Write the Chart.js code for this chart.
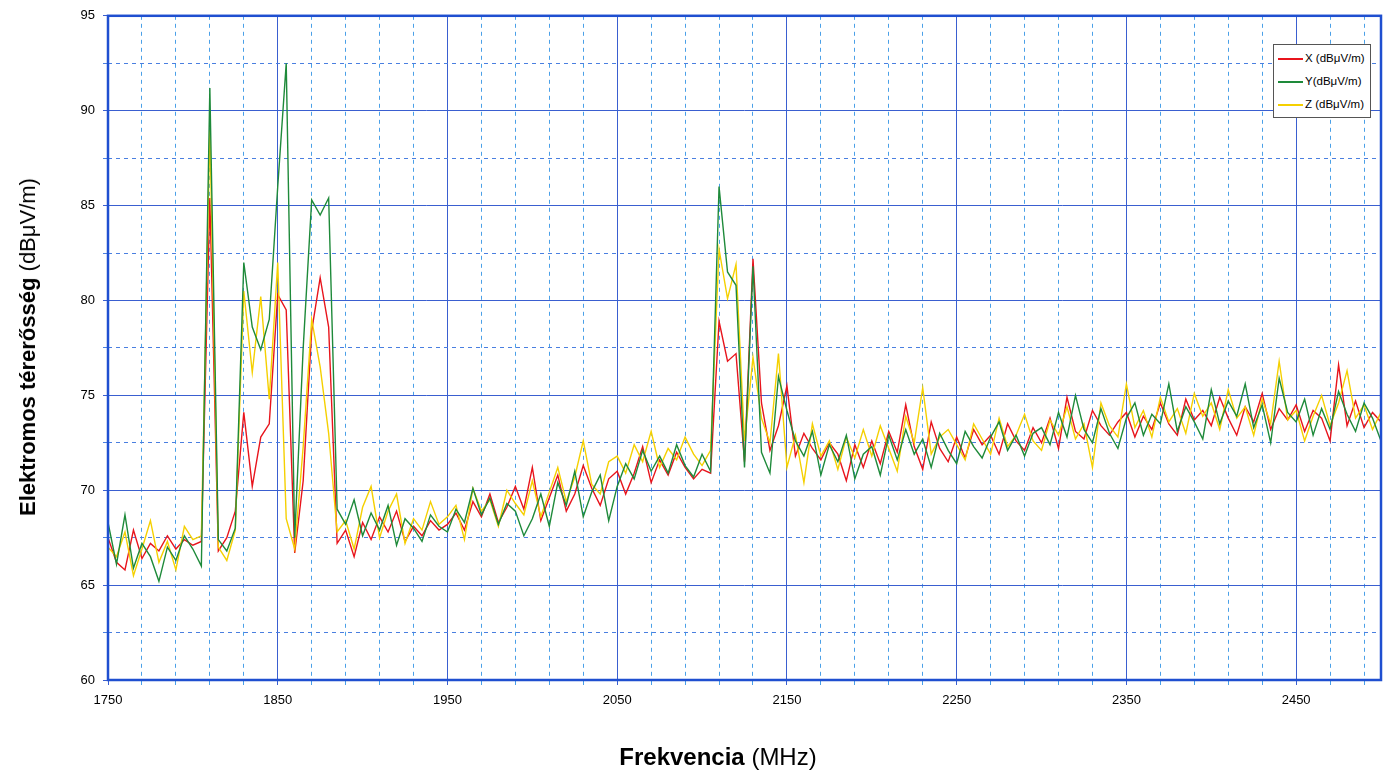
<!DOCTYPE html>
<html>
<head>
<meta charset="utf-8">
<script src="https://cdn.jsdelivr.net/npm/chart.js@4.4.1/dist/chart.umd.min.js"></script>
<style>
  body { margin: 0; background: #fff; font-family: "Liberation Sans", Arial, sans-serif; }
  #wrap { position: relative; width: 1389px; height: 774px; }
  #ytitle { position: absolute; left: 28px; top: 347px; transform: translate(-50%, -50%) rotate(-90deg); font-size: 22px; white-space: nowrap; }
  #xtitle { position: absolute; left: 718px; top: 757px; transform: translate(-50%, -50%); font-size: 24px; white-space: nowrap; }
  #legend { position: absolute; left: 1273px; top: 44px; width: 98px; height: 74px; background: #fff; border: 1px solid #555; font-size: 11.5px; padding-top: 2px; box-sizing: border-box; }
  #legend div { height: 23px; line-height: 23px; white-space: nowrap; }
  #legend span { display: inline-block; width: 25px; height: 2px; vertical-align: middle; margin: 0 2px 0 4px; }
</style>
</head>
<body>
<div id="wrap">
  <canvas id="chart" width="1389" height="774"></canvas>
  <div id="ytitle"><b>Elektromos térerősség</b> (dBμV/m)</div>
  <div id="xtitle"><b>Frekvencia</b> (MHz)</div>
  <div id="legend">
    <div><span style="background:#e8141c"></span>X (dBμV/m)</div>
    <div><span style="background:#1e8a3a"></span>Y(dBμV/m)</div>
    <div><span style="background:#f5d000"></span>Z (dBμV/m)</div>
  </div>
</div>
<script>
// frequencies 1750..2500 MHz, step 5
const freqs = [];
for (let f = 1750; f <= 2500; f += 5) freqs.push(f);

const seriesX = [
  67.5,66.2,65.8,67.9,66.4,67.2,66.8,67.6,66.9,67.4,
  67.1,67.3,85.4,66.8,67.5,68.9,
  74.1,70.2,72.8,73.5,
  80.3,79.5,
  66.7,70.5,78.4,81.2,78.6,
  67.2,67.9,66.5,68.3,67.4,68.6,67.8,68.9,67.3,68.1,67.6,68.4,67.9,
  68.2,68.8,67.9,69.4,68.6,69.8,68.3,69.1,70.2,69.0,
  71.2,68.4,69.6,70.8,68.9,69.8,71.3,70.1,69.2,70.6,
  71.0,69.8,70.9,72.3,70.4,71.6,70.8,72.0,71.2,70.6,71.1,70.9,
  78.9,76.8,77.2,71.5,
  82.2,74.6,72.1,73.4,
  75.5,71.8,73.0,72.2,71.6,72.5,71.9,70.5,72.4,71.2,
  72.6,71.4,73.1,72.0,74.5,72.3,71.1,73.6,72.2,71.5,
  72.8,71.7,73.2,72.4,72.9,71.9,73.5,72.6,72.1,73.3,
  72.5,73.8,72.2,74.9,73.1,72.7,74.2,73.4,72.9,73.6,
  74.1,72.8,73.9,73.2,74.6,73.5,72.9,74.8,73.7,74.2,
  73.4,74.9,73.8,72.9,74.4,73.6,75.1,73.2,74.3,73.7,
  74.5,73.1,74.2,73.8,72.6,76.6,73.4,74.7,73.3,74.1,73.6
];
const seriesY = [
  68.3,66.1,68.7,65.9,67.2,66.5,65.2,67.0,66.3,67.6,
  66.9,66.0,91.2,67.4,66.8,68.0,
  82.0,78.6,77.4,79.0,
  86.0,92.5,
  67.5,77.5,85.3,84.5,85.4,
  69.0,68.2,69.5,67.6,68.8,67.9,69.2,67.1,68.5,68.0,67.3,68.7,68.1,
  67.8,69.0,68.3,70.1,68.7,69.6,68.2,69.3,68.9,67.6,
  68.5,69.8,68.1,70.4,69.2,71.0,68.6,69.9,70.8,68.4,
  70.2,71.4,70.6,72.1,71.0,71.8,70.9,72.4,71.3,70.7,71.9,71.0,
  86.0,81.5,80.8,71.2,
  81.8,72.0,70.9,76.0,
  74.2,72.6,71.8,73.1,70.8,72.4,71.5,72.9,70.6,71.9,
  72.3,70.8,72.9,71.6,73.2,71.9,72.7,71.2,73.0,72.1,
  71.4,73.1,72.3,71.7,72.8,73.6,72.1,72.9,71.8,73.0,
  73.3,72.4,74.1,72.8,75.0,73.2,72.5,74.3,73.0,72.2,
  73.8,74.6,72.9,74.0,73.5,75.6,73.1,74.4,73.6,72.7,
  75.3,73.5,74.7,73.9,75.6,73.3,74.5,72.5,75.9,74.1,
  73.6,74.8,72.9,74.3,73.2,75.2,74.0,73.1,74.6,73.8,72.6
];
const seriesZ = [
  67.0,66.5,67.8,65.5,66.9,68.4,66.2,67.3,65.8,68.1,
  67.4,67.6,89.0,67.0,66.3,67.9,
  80.5,76.2,80.2,74.8,
  82.0,68.5,
  66.9,72.3,79.0,76.5,73.0,
  67.8,68.4,66.9,69.1,70.2,67.5,68.9,69.8,67.2,68.5,67.9,69.4,68.2,
  68.6,69.2,67.4,70.1,68.9,69.5,68.1,70.0,69.3,68.7,
  70.5,68.6,69.9,71.2,69.4,70.7,72.6,70.3,69.8,71.5,
  71.8,70.9,72.4,71.5,73.1,71.2,72.2,71.6,72.8,71.9,71.3,72.1,
  82.7,80.1,81.9,72.6,
  77.0,73.8,72.5,77.2,
  71.2,72.9,70.4,73.5,71.8,72.6,71.1,72.8,71.7,73.2,
  71.8,73.4,72.2,71.0,73.9,72.5,75.4,71.9,72.8,73.2,
  72.4,71.6,73.5,72.7,71.9,73.8,72.3,72.9,74.0,72.6,
  72.1,73.7,72.9,74.4,72.7,73.5,71.2,74.6,73.4,72.8,
  75.6,73.3,74.2,72.8,74.9,73.6,74.3,73.0,75.1,73.9,
  74.6,73.2,75.3,73.8,74.4,72.9,74.8,73.5,76.8,73.7,
  74.2,72.6,73.9,75.0,73.4,74.6,76.3,73.8,74.5,73.2,74.1
];

const toPts = arr => arr.map((v, i) => ({ x: freqs[i], y: v }));

// frame around plot area
const frame = {
  id: 'frame',
  afterDraw(chart) {
    const a = chart.chartArea, c = chart.ctx;
    c.save();
    c.strokeStyle = '#1f4fd0';
    c.lineWidth = 2.5;
    c.strokeRect(a.left, a.top, a.right - a.left, a.bottom - a.top);
    c.restore();
  }
};

new Chart(document.getElementById('chart').getContext('2d'), {
  type: 'line',
  data: {
    datasets: [
      { label: 'Y(dBμV/m)', data: toPts(seriesY), borderColor: '#1e8a3a', borderWidth: 1.4 },
      { label: 'Z (dBμV/m)', data: toPts(seriesZ), borderColor: '#f5d000', borderWidth: 1.4 },
      { label: 'X (dBμV/m)', data: toPts(seriesX), borderColor: '#e8141c', borderWidth: 1.4 }
    ]
  },
  plugins: [frame],
  options: {
    responsive: false,
    animation: false,
    layout: { padding: { top: 15, right: 7, left: 0, bottom: 0 } },
    elements: { point: { radius: 0 }, line: { tension: 0 } },
    plugins: { legend: { display: false }, tooltip: { enabled: false } },
    scales: {
      x: {
        type: 'linear', min: 1750, max: 2500,
        afterFit(s) { s.height = 94; },
        afterBuildTicks(s) {
          const t = [];
          for (let v = 1750; v <= 2500; v += 10) t.push({ value: v });
          s.ticks = t;
        },
        ticks: {
          autoSkip: false, maxRotation: 0, color: '#000',
          font: { family: 'Liberation Sans', size: 13 }, padding: 8,
          callback: v => ((v - 1750) % 100 === 0 && v < 2500) ? String(v) : ''
        },
        grid: {
          color: ctx => {
            const v = ctx.tick.value;
            if ((v - 1750) % 100 === 0) return '#3a5fd0';
            if ((v - 1750) % 20 === 0) return '#4aa0e8';
            return 'rgba(0,0,0,0)';
          },
          lineWidth: 1, drawTicks: true, tickLength: 5
        },
        border: {
          display: false,
          dash: ctx => ((ctx.tick.value - 1750) % 100 === 0 ? [] : [4, 4])
        }
      },
      y: {
        min: 60, max: 95,
        afterFit(s) { s.width = 108; },
        afterBuildTicks(s) {
          const t = [];
          for (let v = 60; v <= 95; v += 2.5) t.push({ value: v });
          s.ticks = t;
        },
        ticks: {
          autoSkip: false, color: '#000',
          font: { family: 'Liberation Sans', size: 13 }, padding: 8,
          callback: v => (v % 5 === 0 ? String(v) : '')
        },
        grid: {
          color: ctx => (ctx.tick.value % 5 === 0 ? '#3a5fd0' : '#4a7fe0'),
          lineWidth: 1, tickLength: 5
        },
        border: {
          display: false,
          dash: ctx => (ctx.tick.value % 5 === 0 ? [] : [4, 4])
        }
      }
    }
  }
});
</script>
</body>
</html>
